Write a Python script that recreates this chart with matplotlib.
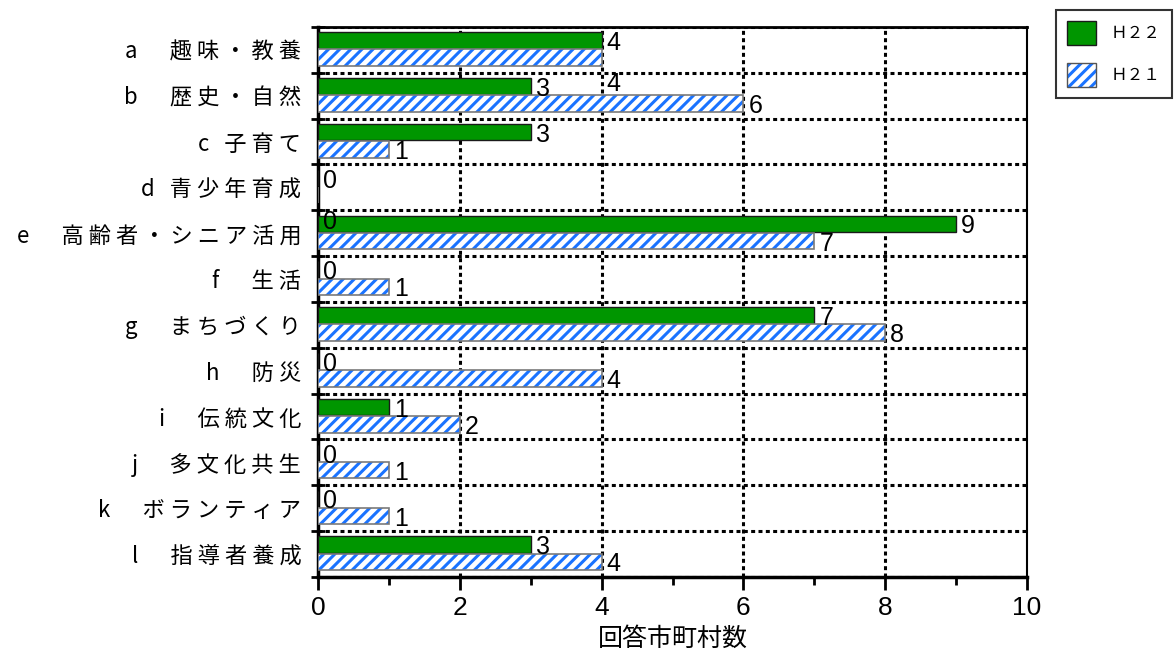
import matplotlib
matplotlib.use("Agg")
import matplotlib.pyplot as plt
from matplotlib.patches import Patch
import numpy as np

plt.rcParams["font.family"] = ["Noto Sans CJK JP", "DejaVu Sans"]
plt.rcParams["hatch.linewidth"] = 2.2

categories = [
    "a　趣味・教養",
    "b　歴史・自然",
    "c 子育て",
    "d 青少年育成",
    "e　高齢者・シニア活用",
    "f　生活",
    "g　まちづくり",
    "h　防災",
    "i　伝統文化",
    "j　多文化共生",
    "k　ボランティア",
    "l　指導者養成",
]
h22 = [4, 3, 3, 0, 9, 0, 7, 0, 1, 0, 0, 3]
h21 = [4, 6, 1, 0, 7, 1, 8, 4, 2, 1, 1, 4]
series_names = ["Ｈ２２", "Ｈ２１"]
x_ticks = [0, 2, 4, 6, 8, 10]
x_label = "回答市町村数"

GREEN = "#009600"
BLUE = "#1a73ff"
NUM_FONT = "Liberation Sans"


def spaced(text):
    # widen the character pitch the way the label cells are typeset
    return " ".join(text)


fig = plt.figure(figsize=(11.74, 6.57), dpi=100)
ax = fig.add_axes([0.2709, 0.1218, 0.6039, 0.8371])

y = np.arange(len(categories))
bar_h = 0.36
y_green = y - 0.205
y_blue = y + 0.17

ax.barh(y_green, h22, height=bar_h, color=GREEN, edgecolor="#1a1a1a",
        linewidth=1.0, zorder=3)
ax.barh(y_blue, h21, height=bar_h, color="white", edgecolor=BLUE,
        hatch="///", linewidth=0, zorder=3)
ax.barh(y_blue, h21, height=bar_h, color="none", edgecolor="#7a7a7a",
        linewidth=1.2, zorder=4)

# a couple of H21 labels sit half a row lower in the source layout
label_nudge = {0: 0.52, 3: 0.52}
for i, (g, b) in enumerate(zip(h22, h21)):
    ax.annotate(str(g), (g, y_green[i]), xytext=(5, -2.5),
                textcoords="offset pixels", ha="left", va="center",
                fontsize=18, family=NUM_FONT, zorder=5)
    ax.annotate(str(b), (b, y_blue[i] + label_nudge.get(i, 0)),
                xytext=(5, -2.5), textcoords="offset pixels", ha="left",
                va="center", fontsize=18, family=NUM_FONT, zorder=5)

ax.set_xlim(0, 10)
ax.set_ylim(len(categories) - 0.5, -0.5)

# row boundaries carry the ticks and dotted grid, labels sit at row centres
ax.set_yticks(np.arange(-0.5, len(categories), 1.0))
ax.set_yticklabels([])
ax.set_yticks(y, minor=True)
ax.set_yticklabels([spaced(c) for c in categories], minor=True, fontsize=16)
ax.tick_params(axis="y", which="major", direction="inout", length=10, width=2)
ax.tick_params(axis="y", which="minor", length=0, pad=12)

ax.set_xticks(x_ticks)
ax.set_xticklabels([str(t) for t in x_ticks], family=NUM_FONT, fontsize=19)
ax.set_xticks(np.arange(1, 10, 2), minor=True)
ax.tick_params(axis="x", which="major", direction="out", length=9, width=2, pad=5)
ax.tick_params(axis="x", which="minor", direction="out", length=6, width=2)
ax.set_xlabel(x_label, fontsize=18, labelpad=4)

dots = (0, (1.3, 1.1))
ax.grid(axis="y", which="major", color="black", linestyle=dots,
        linewidth=2.2, zorder=1)
for t in x_ticks[1:-1]:
    ax.axvline(t, color="black", linestyle=dots, linewidth=2.2, zorder=1)

ax.spines["left"].set_linewidth(2.5)
ax.spines["bottom"].set_linewidth(2.5)
ax.spines["top"].set_linewidth(2)
ax.spines["right"].set_linewidth(1.5)

green_handle = Patch(facecolor=GREEN, edgecolor="#1a1a1a", linewidth=1.0)
blue_handle = (
    Patch(facecolor="white", edgecolor=BLUE, hatch="///", linewidth=0),
    Patch(facecolor="none", edgecolor="#555555", linewidth=1.0),
)
leg = fig.legend([green_handle, blue_handle], series_names,
                 loc="upper right", bbox_to_anchor=(1.0, 0.988),
                 prop={"family": ["Noto Sans CJK JP"], "size": 12},
                 frameon=True, fancybox=False, edgecolor="black",
                 handlelength=1.75, handleheight=1.8, labelspacing=1.1,
                 borderpad=0.65, handletextpad=0.9, borderaxespad=0.15)
leg.get_frame().set_linewidth(1.5)

fig.savefig("out.png", dpi=100)
